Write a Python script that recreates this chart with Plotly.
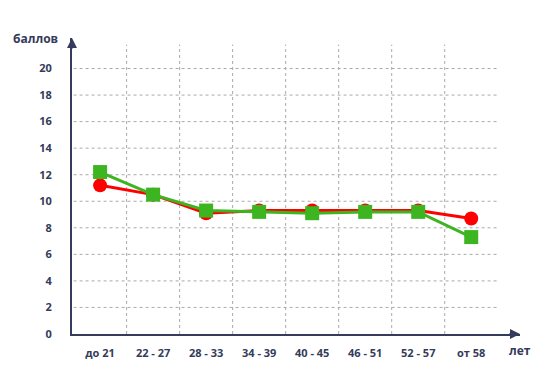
import plotly.graph_objects as go

categories = ["до 21", "22 - 27", "28 - 33", "34 - 39", "40 - 45", "46 - 51", "52 - 57", "от 58"]
red_values = [11.2, 10.5, 9.1, 9.3, 9.3, 9.3, 9.3, 8.7]
green_values = [12.2, 10.5, 9.3, 9.2, 9.1, 9.2, 9.2, 7.3]
y_ticks = [0, 2, 4, 6, 8, 10, 12, 14, 16, 18, 20]

xs = list(range(len(categories)))
axis_color = "#353b5a"

fig = go.Figure()
fig.add_trace(go.Scatter(x=xs, y=red_values, mode="lines+markers",
                         line=dict(color="#ff0000", width=3),
                         marker=dict(symbol="circle", size=14, color="#ff0000")))
fig.add_trace(go.Scatter(x=xs, y=green_values, mode="lines+markers",
                         line=dict(color="#3cb521", width=3),
                         marker=dict(symbol="square", size=14, color="#3cb521")))

shapes = []
for v in y_ticks[1:]:
    shapes.append(dict(type="line", xref="x", yref="y", x0=-0.5, x1=7.5, y0=v, y1=v,
                       line=dict(color="#aaaaaa", width=1, dash="dot"), layer="below"))
for i in range(len(categories) - 1):
    shapes.append(dict(type="line", xref="x", yref="y", x0=i + 0.5, x1=i + 0.5, y0=0, y1=21.8,
                       line=dict(color="#aaaaaa", width=1, dash="dot"), layer="below"))

L, T, R, B = 64, 30, 30, 47
W, H = 542, 373
plot_w = W - L - R
plot_h = H - T - B

fig.update_layout(
    width=W, height=H,
    margin=dict(l=L, r=R, t=T, b=B),
    paper_bgcolor="white", plot_bgcolor="white",
    showlegend=False,
    shapes=shapes,
    xaxis=dict(range=[-0.53, 7.92], tickvals=xs, ticktext=categories,
               showgrid=False, zeroline=False, showline=True, linecolor=axis_color, linewidth=2,
               ticks="", ticklabelstandoff=8,
               tickfont=dict(family="Open Sans", size=11, color=axis_color, weight="bold"),
               fixedrange=True),
    yaxis=dict(range=[0, 22.3], tickvals=y_ticks, showgrid=False, zeroline=False,
               showline=True, linecolor=axis_color, linewidth=2, ticks="", ticklabelstandoff=16,
               tickfont=dict(family="Open Sans", size=11, color=axis_color, weight="bold")),
    annotations=[
        dict(x=-0.53, y=22.3, xref="x", yref="y", ax=0, ay=12, showarrow=True,
             arrowhead=2, arrowsize=1, arrowwidth=2, arrowcolor=axis_color, text=""),
        dict(x=7.92, y=0, xref="x", yref="y", ax=-12, ay=0, showarrow=True,
             arrowhead=2, arrowsize=1, arrowwidth=2, arrowcolor=axis_color, text=""),
        dict(x=(27 - L) / plot_w, y=1.0, xref="paper", yref="paper", text="баллов", showarrow=False,
             xanchor="center", yanchor="middle",
             font=dict(family="Open Sans", size=12, color=axis_color, weight="bold")),
        dict(x=7.92, y=0, xref="x", yref="y", yshift=-16, text="лет", showarrow=False,
             font=dict(family="Open Sans", size=12, color=axis_color, weight="bold")),
    ],
)

fig.write_html("out.html")
